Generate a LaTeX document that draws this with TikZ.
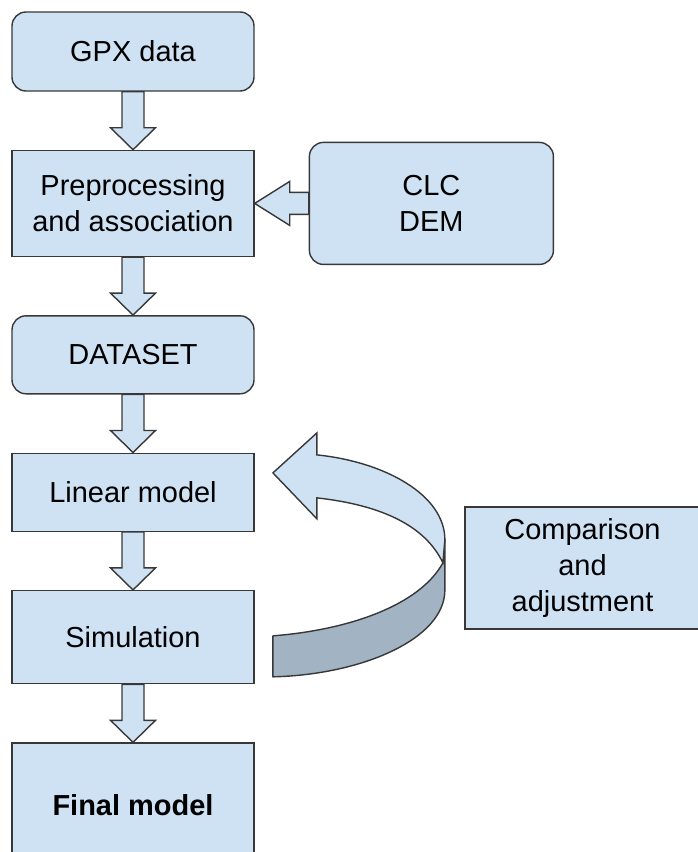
\documentclass[tikz,border=0pt]{standalone}
\usepackage{fontspec}
\setmainfont{Liberation Sans}
\usepackage{xcolor}
\usepackage{tikz}
\usetikzlibrary{positioning,calc}

\definecolor{boxblue}{HTML}{CFE2F3}
\definecolor{shadeblue}{HTML}{A2B3C4}
\definecolor{edgegray}{HTML}{383838}

\begin{document}
\begin{tikzpicture}[node distance=1.45cm, line width=1pt]
\tikzstyle{box} = [rectangle, draw=edgegray, fill=boxblue, minimum width=6.05cm, inner sep=0pt, align=center, font=\fontsize{20.6}{25.6}\selectfont]
\tikzstyle{roundbox} = [box, rounded corners=0.35cm]
\tikzstyle{blockarrow} = [draw=edgegray, fill=boxblue, line join=miter]
\useasboundingbox (0,0) rectangle (17.425,-21.3);

% main column
\node[roundbox, minimum height=1.975cm] (gpx) at (3.325,-1.2875) {GPX data};
\node[box, minimum height=2.65cm, below=of gpx] (prep) {Preprocessing\\and association};
\node[roundbox, minimum height=1.95cm, below=of prep] (data) {DATASET};
\node[box, minimum height=1.95cm, below=of data] (lin) {Linear model};
\node[box, minimum height=2.325cm, below=of lin] (sim) {Simulation};
\node[box, minimum height=3.1cm, below=of sim] (final) {\bfseries Final model};

% side boxes
\node[roundbox, minimum width=6.1cm, minimum height=3.05cm, right=1.35cm of prep] (clc) {CLC\\DEM};
\node[box, minimum width=5.875cm, minimum height=3.05cm] (comp) at (14.5625,-14.2) {Comparison\\and\\adjustment};

\foreach \from/\to in {gpx/prep, prep/data, data/lin, lin/sim, sim/final}
\draw[blockarrow] ($(\from.south)+(-0.275,0)$) -- ($(\to.north)+(-0.275,0.55)$) -- ++(-0.2875,0) -- (\to.north)
  -- ($(\to.north)+(0.5625,0.55)$) -- ++(-0.2875,0) -- ($(\from.south)+(0.275,0)$) -- cycle;

\draw[blockarrow] ($(clc.west)+(0,0.275)$) -- ($(prep.east)+(0.875,0.275)$) -- ++(0,0.275) -- (prep.east)
  -- ($(prep.east)+(0.875,-0.55)$) -- ++(0,0.275) -- ($(clc.west)+(0,-0.275)$) -- cycle;

% curved feedback arrow
\begin{scope}[x=0.025cm, y=-0.025cm]
\draw[fill=shadeblue, draw=edgegray, line join=round] (443,563) .. controls (420,605) and (350,630) .. (273,636)
  -- (273,677) .. controls (360,675) and (445,640) .. (445,590) -- (445,540) -- cycle;
\draw[blockarrow] (273,473) -- (317,433) -- (317,455) .. controls (385,462) and (445,495) .. (445,540)
  -- (443,563) .. controls (425,525) and (380,505) .. (317,498) -- (317,519) -- cycle;
\end{scope}
\end{tikzpicture}
\end{document}
